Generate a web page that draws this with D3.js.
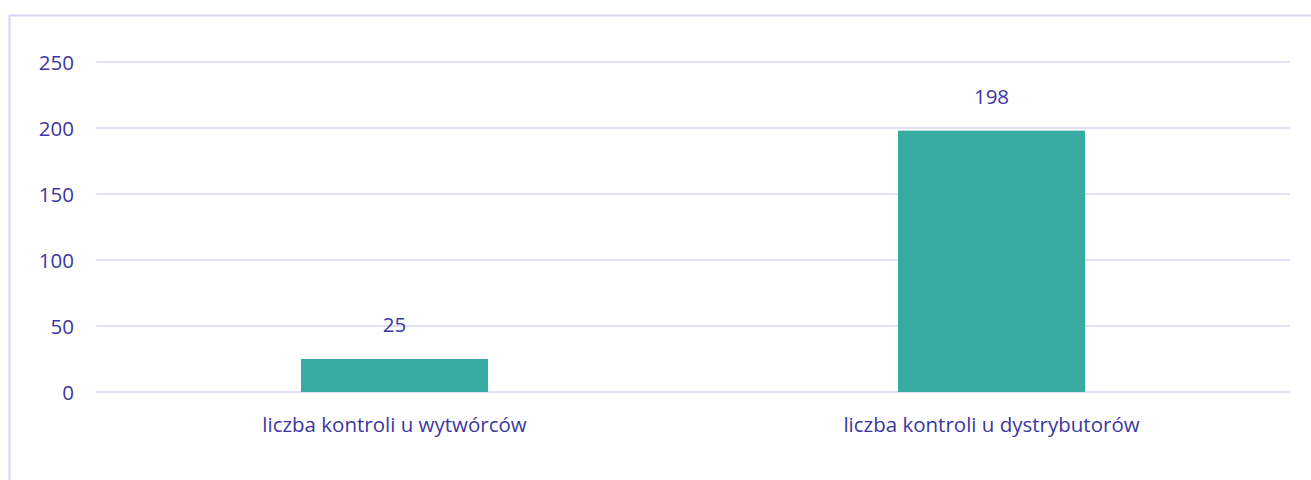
<!DOCTYPE html>
<html><head><meta charset="utf-8">
<script src="https://cdn.jsdelivr.net/npm/d3@7"></script>
<style>html,body{margin:0;padding:0;background:#fff;}svg{display:block;}</style>
</head><body>
<svg id="c" width="1311" height="480"></svg>
<script>
const categories = ["liczba kontroli u wytwórców", "liczba kontroli u dystrybutorów"];
const values = [25, 198];
const yTicks = [0, 50, 100, 150, 200, 250];

const svg = d3.select("#c");
const textColor = "#3c379f";
const gridColor = "#d8d4f2";
const font = "'Open Sans', 'Noto Sans', sans-serif";
const fs = "20.5px";

// outer frame
svg.append("rect").attr("x", 9.5).attr("y", 15.5).attr("width", 1320).attr("height", 480)
  .attr("fill", "none").attr("stroke", gridColor).attr("stroke-width", 2);

const plotLeft = 96, plotRight = 1290, plotTop = 62, plotBottom = 392;
const x = d3.scaleBand().domain(categories).range([plotLeft, plotRight]).paddingInner(0).paddingOuter(0);
const y = d3.scaleLinear().domain([0, 250]).range([plotBottom, plotTop]);

// grid
svg.append("g").selectAll("line").data(yTicks).join("line")
  .attr("x1", plotLeft).attr("x2", plotRight)
  .attr("y1", d => y(d)).attr("y2", d => y(d))
  .attr("stroke", gridColor).attr("stroke-width", 1.5);

// y labels
const yAxis = d3.axisLeft(y).tickValues(yTicks).tickSize(0).tickPadding(0);
const gy = svg.append("g").attr("transform", `translate(74,0)`).call(yAxis);
gy.select(".domain").remove();
gy.selectAll("text").attr("dy", "0.36em").attr("fill", textColor).style("font-family", font).style("font-size", fs);

// bars
const bw = 187;
svg.append("g").selectAll("rect").data(values).join("rect")
  .attr("x", (d, i) => x(categories[i]) + x.bandwidth() / 2 - bw / 2)
  .attr("width", bw)
  .attr("y", d => y(d))
  .attr("height", d => y(0) - y(d))
  .attr("fill", "#36aba2");

// value labels
svg.append("g").selectAll("text").data(values).join("text")
  .attr("x", (d, i) => x(categories[i]) + x.bandwidth() / 2)
  .attr("y", d => y(d) - 27)
  .attr("text-anchor", "middle")
  .attr("fill", textColor).style("font-family", font).style("font-size", fs)
  .text(d => d);

// category labels
const xAxis = d3.axisBottom(x).tickSize(0).tickPadding(0);
const gx = svg.append("g").attr("transform", `translate(0,432)`).call(xAxis);
gx.select(".domain").remove();
gx.selectAll("text").attr("dy", 0).attr("fill", textColor).style("font-family", font).style("font-size", fs);
</script>
</body></html>
